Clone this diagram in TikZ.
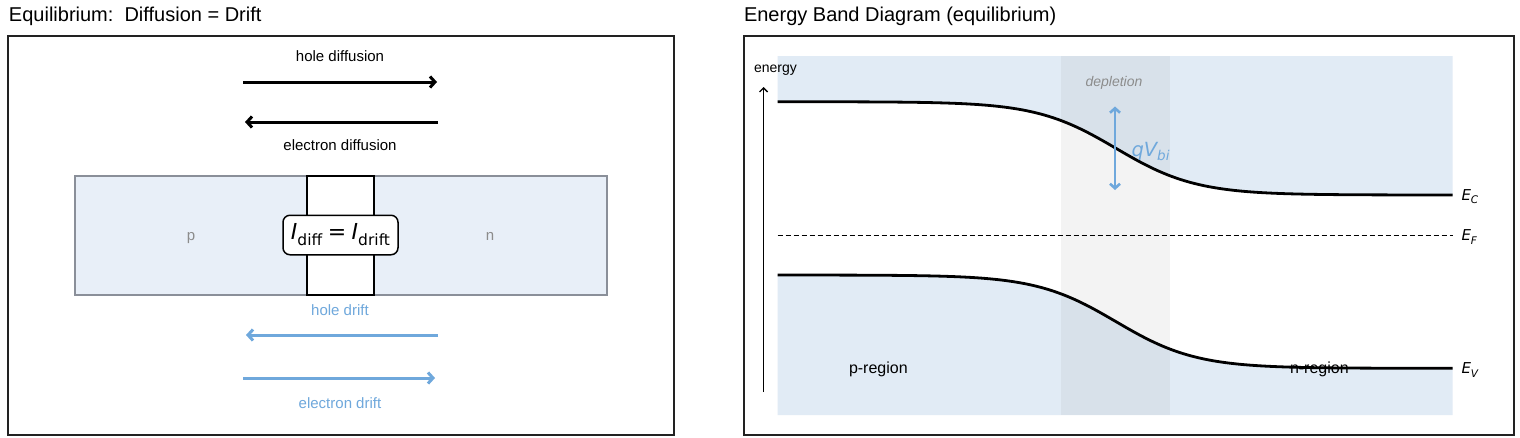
\documentclass[tikz,border=0pt]{standalone}
\usepackage{fontspec}
\setmainfont{Liberation Sans}
\newfontfamily\djfont{DejaVu Sans}
\usetikzlibrary{arrows.meta}
\definecolor{lbluebg}{HTML}{E8EFF8}
\definecolor{rbluebg}{HTML}{E1EBF5}
\definecolor{driftblue}{HTML}{6FA8DC}
\definecolor{framegray}{HTML}{222222}
\definecolor{regborder}{HTML}{8A8F99}
\definecolor{regtext}{HTML}{8C8C8C}
\newcommand{\pxfont}[1]{\fontsize{#1}{#1}\selectfont}
\tikzset{
  panelframe/.style={draw=framegray, line width=1.5pt},
  diffarrow/.style={line width=3pt, -{Straight Barb[length=5pt,width=11pt]}},
  driftarrow/.style={driftblue, line width=3pt, -{Straight Barb[length=5pt,width=11pt]}},
  lbl/.style={anchor=base, font=\pxfont{15}},
  title/.style={anchor=base west, font=\pxfont{20}},
  bandline/.style={line width=2.8pt},
  elabel/.style={anchor=base west, font=\djfont\itshape\pxfont{15}}
}
\begin{document}
\begin{tikzpicture}[x=1pt,y=-1pt, every node/.style={inner sep=0pt, outer sep=0pt}]
\useasboundingbox (0,0) rectangle (1520,437);
\fill[white] (0,0) rectangle (1520,437);

% ---------------- left panel ----------------
\node[title] (ltitle) at (9,21) {Equilibrium:\ \ Diffusion = Drift};
\draw[panelframe] (8,36) rectangle (674,435);

\coordinate (hdA) at (243,82);  \coordinate (hdB) at (437,82);
\coordinate (edA) at (438,122); \coordinate (edB) at (245,122);
\draw[diffarrow] (hdA) -- (hdB);
\draw[diffarrow] (edA) -- (edB);
\node[lbl] (hdlabel) at (340,61.5) {hole diffusion};
\node[lbl] (edlabel) at (340,150) {electron diffusion};

\draw[fill=lbluebg, draw=regborder, line width=1.5pt] (75,176) rectangle (607,295);
\draw[fill=white, draw=black, line width=1.3pt] (307,176) rectangle (374,295);
\node[lbl, text=regtext] (plabel) at (191,240) {p};
\node[lbl, text=regtext] (nlabel) at (490,240) {n};
\node[draw=black, fill=white, line width=1.5pt, rounded corners=7pt,
      minimum width=115pt, minimum height=39.5pt, font=\djfont\pxfont{22}] (eqbox) at (340.5,235)
  {\itshape I\upshape\raisebox{-0.28em}{\pxfont{15.5}diff}\hspace{0.25em}=\hspace{0.25em}\itshape I\upshape\raisebox{-0.28em}{\pxfont{15.5}drift}};

\node[lbl, text=driftblue] (hdrlabel) at (340,315) {hole drift};
\coordinate (hrA) at (438,335); \coordinate (hrB) at (246,335);
\coordinate (erA) at (243,378); \coordinate (erB) at (435,378);
\draw[driftarrow] (hrA) -- (hrB);
\draw[driftarrow] (erA) -- (erB);
\node[lbl, text=driftblue] (edrlabel) at (340,408.5) {electron drift};

% ---------------- right panel ----------------
\node[title] (rtitle) at (744,21) {Energy Band Diagram (equilibrium)};
\draw[panelframe] (744,36) rectangle (1514,435);

% blue band regions
\fill[rbluebg] (777.5,56) -- plot[domain=777.5:1452.5, samples=120] (\x, {148.35+46.65*tanh((\x-1116)/80)}) -- (1452.5,56) -- cycle;
\fill[rbluebg] (777.5,415) -- plot[domain=777.5:1452.5, samples=120] (\x, {321.65+46.65*tanh((\x-1116)/80)}) -- (1452.5,415) -- cycle;
% depletion shading
\fill[gray, opacity=0.09] (1061,56) rectangle (1170,415);
\node[anchor=base, font=\pxfont{14}\itshape, text=black!45] (deplabel) at (1114,86) {depletion};

\node[anchor=base west, font=\pxfont{14}] (energylabel) at (754,72.5) {energy};
\coordinate (enA) at (763.5,392); \coordinate (enB) at (763.5,87);
\draw[line width=1.4pt, -{Straight Barb[length=4pt,width=8pt]}] (enA) -- (enB);

\node[anchor=base west, font=\pxfont{16}] (preg) at (849,373.3) {p-region};
\node[anchor=base west, font=\pxfont{16}] (nreg) at (1290,373.3) {n-region};

% bands
\draw[bandline] plot[domain=777.5:1452.5, samples=150] (\x, {148.35+46.65*tanh((\x-1116)/80)});
\draw[bandline] plot[domain=777.5:1452.5, samples=150] (\x, {321.65+46.65*tanh((\x-1116)/80)});
\coordinate (efA) at (777.5,235.5); \coordinate (efB) at (1452.5,235.5);
\draw[line width=1.2pt, dash pattern=on 5pt off 3pt] (efA) -- (efB);

\node[elabel] (EC) at (1461.5,200) {E\raisebox{-0.25em}{\pxfont{10.5}C}};
\node[elabel] (EF) at (1461.5,240.5) {E\raisebox{-0.25em}{\pxfont{10.5}F}};
\node[elabel] (EV) at (1461.5,373.5) {E\raisebox{-0.25em}{\pxfont{10.5}V}};

% qVbi arrow
\coordinate (qA) at (1115,106.5); \coordinate (qB) at (1115,190);
\draw[driftblue, line width=2.6pt, {Straight Barb[length=4.5pt,width=10pt]}-{Straight Barb[length=4.5pt,width=10pt]}] (qA) -- (qB);
\node[anchor=base west, text=driftblue, font=\djfont\itshape\pxfont{19.5}] (qvbi) at (1131.5,156)
  {qV\raisebox{-0.25em}{\pxfont{13.5}bi}};
\end{tikzpicture}
\end{document}
